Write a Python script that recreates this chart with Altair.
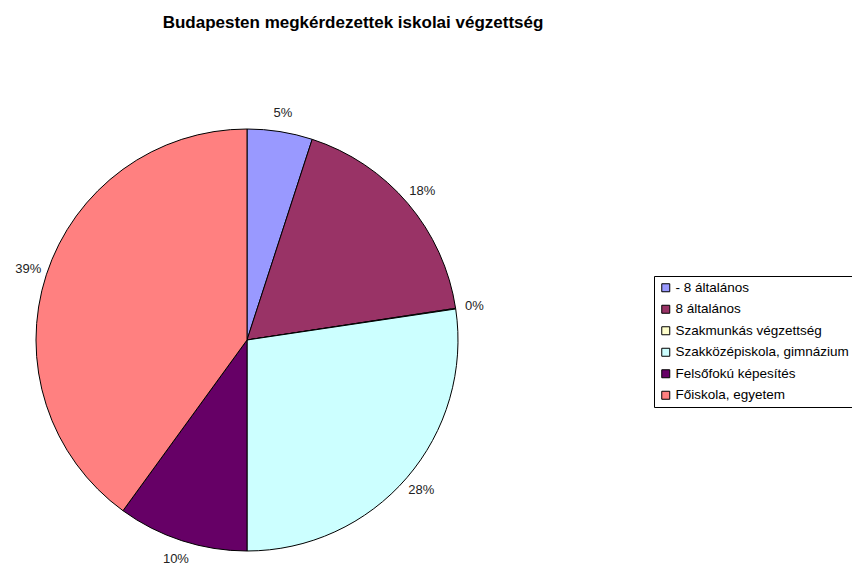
import altair as alt
import pandas as pd

categories = ["- 8 általános", "8 általános", "Szakmunkás végzettség",
              "Szakközépiskola, gimnázium", "Felsőfokú képesítés", "Főiskola, egyetem"]
values = [5.0, 17.6, 0.05, 27.35, 10.0, 40.0]
labels = ["5%", "18%", "0%", "28%", "10%", "39%"]
colors = ["#9999FF", "#993366", "#FFFFCC", "#CCFFFF", "#660066", "#FF8080"]
title_text = "Budapesten megkérdezettek iskolai végzettség"

df = pd.DataFrame({"cat": categories, "val": values, "label": labels,
                   "order": list(range(len(categories)))})

CX, CY = 239, 332
FONT = "Liberation Sans"

base = alt.Chart(df).encode(
    theta=alt.Theta("val:Q", stack=True),
    order=alt.Order("order:Q"),
)

pie = base.mark_arc(radius=211, stroke="black", strokeWidth=1).encode(
    x=alt.value(CX), y=alt.value(CY),
    color=alt.Color("cat:N", scale=alt.Scale(domain=categories, range=colors),
                    sort=categories,
                    legend=alt.Legend(title=None, orient="none", legendX=646, legendY=268,
                                      symbolType="square", symbolSize=64,
                                      symbolStrokeColor="black", symbolStrokeWidth=1,
                                      labelFont=FONT, labelFontSize=13.5, labelColor="black",
                                      strokeColor="black", padding=5, rowPadding=6.5,
                                      labelOffset=3, labelLimit=300)),
)

txt = base.mark_text(radius=230, font=FONT, fontSize=13, color="#222222").encode(
    x=alt.value(CX), y=alt.value(CY), text="label:N"
)

title_df = pd.DataFrame({"t": [title_text]})
title = alt.Chart(title_df).mark_text(font=FONT, fontSize=17, fontWeight="bold",
                                      color="black", align="center", baseline="middle").encode(
    x=alt.value(345), y=alt.value(15), text="t:N"
)

chart = alt.layer(pie, txt, title).properties(
    width=844, height=557, autosize=alt.AutoSizeParams(type="none"), padding=0
).configure_view(stroke=None)

chart.save("out.html", embed_options={"renderer": "svg", "actions": False})
